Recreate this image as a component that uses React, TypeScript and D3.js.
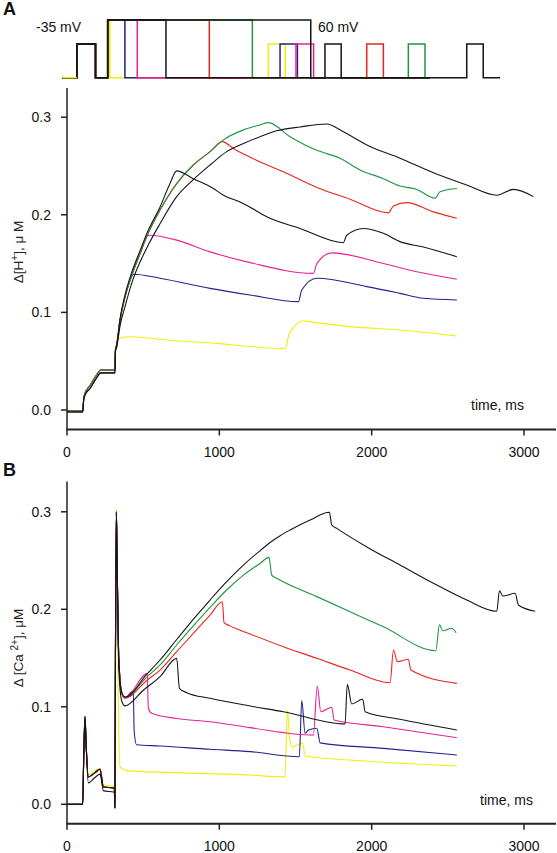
import React from "react";
import * as d3 from "d3";

type P = [number, number];

// ---------- data ----------
const xTicks = [0, 1000, 2000, 3000];
const yTicks = [0.0, 0.1, 0.2, 0.3];

const traceNames = ["yellow", "blue", "magenta", "red", "green", "blackShort", "blackLong"];
const traceColors = ["#eeee10", "#22228c", "#ea2290", "#e8261e", "#1e9640", "#151515", "#151515"];

// protocol (ms)
const prePulse = [100, 230];
const mainPulseStart = 315;
const mainPulseEnd = [330, 435, 521, 1023, 1323, 721, 1730];
const postPulseStart = [1434, 1516, 1627, 2120, 2410, 1829, 2817];
const postPulseEnd = [1552, 1637, 1750, 2236, 2526, 1942, 2932];
const protoEnd = [2560, 2560, 2560, 2560, 2560, 2560, 3050];

// Panel A: Δ[H+]
const hPrefix: P[] = [[0, -0.001], [103, -0.001], [110, 0.012], [118, 0.017], [151, 0.025], [195, 0.036], [221, 0.041], [315, 0.041], [318, 0.062]];
const hPrefixBlack: P[] = [[0, -0.002], [103, -0.002], [110, 0.011], [118, 0.015], [151, 0.022], [195, 0.033], [221, 0.038], [315, 0.038], [318, 0.06]];
const hYellow: P[] = [[326, 0.0666], [337, 0.073], [414, 0.075], [700, 0.071], [1000, 0.068], [1202, 0.065], [1420, 0.063], [1432, 0.063], [1460, 0.0785], [1552, 0.0915], [1570, 0.091], [1858, 0.0854], [2186, 0.082], [2559, 0.0758]];
const hBlue: P[] = [[326, 0.0666], [348, 0.092], [381, 0.116], [425, 0.137], [436, 0.139], [611, 0.135], [939, 0.1246], [1202, 0.1178], [1519, 0.111], [1541, 0.123], [1640, 0.135], [1968, 0.1264], [2186, 0.1195], [2340, 0.1144], [2559, 0.1127]];
const hMagenta: P[] = [[326, 0.0666], [348, 0.092], [381, 0.116], [425, 0.138], [479, 0.16], [527, 0.178], [540, 0.179], [720, 0.174], [939, 0.162], [1202, 0.151], [1617, 0.14], [1640, 0.15], [1738, 0.161], [2077, 0.15], [2296, 0.1417], [2559, 0.134]];
const hRed: P[] = [[326, 0.0666], [348, 0.092], [381, 0.116], [425, 0.138], [479, 0.16], [527, 0.179], [611, 0.205], [720, 0.232], [829, 0.251], [939, 0.2647], [1020, 0.275], [1092, 0.268], [1202, 0.259], [1420, 0.244], [1640, 0.228], [1858, 0.216], [2110, 0.202], [2143, 0.209], [2230, 0.2125], [2405, 0.203], [2559, 0.1964]];
const hGreen: P[] = [[326, 0.0666], [348, 0.092], [381, 0.116], [425, 0.138], [479, 0.16], [527, 0.179], [611, 0.205], [720, 0.232], [829, 0.251], [939, 0.2647], [1020, 0.276], [1158, 0.287], [1267, 0.292], [1322, 0.2944], [1464, 0.28], [1640, 0.266], [1792, 0.258], [1924, 0.246], [2077, 0.237], [2186, 0.2295], [2296, 0.226], [2416, 0.217], [2449, 0.2237], [2559, 0.227]];
const hBlackShort: P[] = [[326, 0.066], [348, 0.093], [381, 0.118], [425, 0.141], [479, 0.163], [527, 0.182], [611, 0.208], [676, 0.232], [720, 0.245], [829, 0.237], [961, 0.227], [1027, 0.22], [1136, 0.213], [1202, 0.2077], [1311, 0.198], [1530, 0.186], [1814, 0.1714], [1836, 0.179], [1946, 0.186], [2077, 0.181], [2186, 0.1725], [2340, 0.167], [2559, 0.157]];
const hBlackLong: P[] = [[326, 0.064], [348, 0.086], [381, 0.106], [425, 0.13], [527, 0.167], [611, 0.191], [720, 0.2186], [829, 0.236], [939, 0.251], [1048, 0.2647], [1158, 0.273], [1267, 0.28], [1377, 0.286], [1530, 0.29], [1705, 0.293], [1814, 0.285], [1989, 0.27], [2186, 0.258], [2405, 0.243], [2624, 0.2305], [2821, 0.22], [2930, 0.226], [3062, 0.2186]];

// Panel B: Δ[Ca2+]
const caPrefix: P[] = [[0, 0], [103, 0], [110, 0.05], [118, 0.09], [126, 0.06], [140, 0.028], [180, 0.032], [217, 0.036], [225, 0.03], [238, 0.018], [311, 0.0164], [314, -0.003], [318, 0.15], [324, 0.3], [328, 0.26]];
const caPrefixBlack: P[] = [[0, 0], [103, 0], [110, 0.05], [118, 0.088], [126, 0.058], [140, 0.022], [180, 0.027], [217, 0.031], [225, 0.026], [238, 0.014], [311, 0.0124], [314, -0.004], [318, 0.15], [324, 0.298], [328, 0.26]];
const caPrefixYellow: P[] = [[0, 0], [103, 0], [110, 0.05], [118, 0.089], [126, 0.06], [140, 0.03], [180, 0.034], [217, 0.037], [225, 0.031], [238, 0.02], [311, 0.018], [314, 0.0], [318, 0.16], [324, 0.303], [328, 0.27]];
const caYellow: P[] = [[336, 0.12], [348, 0.0386], [392, 0.0345], [1202, 0.03], [1431, 0.028], [1447, 0.0967], [1460, 0.07], [1475, 0.059], [1530, 0.062], [1547, 0.0626], [1563, 0.0495], [1858, 0.0454], [2559, 0.0393]];
const caBlue: P[] = [[340, 0.15], [359, 0.114], [381, 0.109], [425, 0.1155], [435, 0.116], [441, 0.075], [457, 0.061], [611, 0.0598], [939, 0.0564], [1202, 0.054], [1525, 0.0488], [1541, 0.1063], [1563, 0.0728], [1585, 0.0762], [1640, 0.078], [1662, 0.063], [2077, 0.0574], [2559, 0.0506]];
const caMagenta: P[] = [[340, 0.15], [359, 0.114], [381, 0.109], [527, 0.134], [534, 0.0985], [556, 0.0933], [720, 0.088], [939, 0.0847], [1202, 0.0786], [1617, 0.071], [1643, 0.1213], [1666, 0.095], [1738, 0.0995], [1753, 0.0865], [2077, 0.0796], [2559, 0.0683]];
const caRed: P[] = [[340, 0.15], [359, 0.114], [381, 0.109], [527, 0.1275], [611, 0.1377], [720, 0.1565], [829, 0.1754], [939, 0.194], [1020, 0.2078], [1031, 0.1863], [1070, 0.183], [1202, 0.1747], [1420, 0.1617], [1640, 0.1497], [1858, 0.1377], [2121, 0.1247], [2143, 0.1583], [2169, 0.1463], [2241, 0.1487], [2257, 0.1377], [2559, 0.124]];
const caGreen: P[] = [[340, 0.15], [359, 0.115], [381, 0.11], [527, 0.131], [611, 0.1429], [720, 0.1634], [829, 0.1829], [939, 0.202], [1048, 0.2198], [1158, 0.235], [1267, 0.247], [1326, 0.2533], [1344, 0.235], [1377, 0.2318], [1640, 0.213], [1858, 0.1975], [2077, 0.182], [2421, 0.1575], [2445, 0.184], [2467, 0.178], [2526, 0.1805], [2554, 0.176]];
const caBlackShort: P[] = [[340, 0.14], [359, 0.106], [381, 0.101], [501, 0.117], [611, 0.131], [720, 0.1497], [738, 0.119], [786, 0.1145], [939, 0.1087], [1202, 0.1008], [1420, 0.095], [1825, 0.0824], [1840, 0.123], [1869, 0.1029], [1941, 0.1077], [1957, 0.095], [2186, 0.0872], [2559, 0.0762]];
const caBlackLong: P[] = [[340, 0.15], [359, 0.115], [381, 0.11], [527, 0.134], [611, 0.148], [720, 0.169], [829, 0.1897], [939, 0.2095], [1048, 0.2283], [1158, 0.2454], [1267, 0.26], [1333, 0.2685], [1399, 0.2755], [1464, 0.2813], [1596, 0.2916], [1722, 0.2995], [1738, 0.2865], [1771, 0.283], [1968, 0.264], [2186, 0.2454], [2405, 0.2267], [2624, 0.2095], [2821, 0.198], [2839, 0.219], [2861, 0.2136], [2942, 0.2164], [2963, 0.2044], [3073, 0.198]];

const hSeries: P[][] = [
  [...hPrefix, ...hYellow],
  [...hPrefix, ...hBlue],
  [...hPrefix, ...hMagenta],
  [...hPrefix, ...hRed],
  [...hPrefix, ...hGreen],
  [...hPrefixBlack, ...hBlackShort],
  [...hPrefixBlack, ...hBlackLong],
];
const caSeries: P[][] = [
  [...caPrefixYellow, ...caYellow],
  [...caPrefix, ...caBlue],
  [...caPrefix, ...caMagenta],
  [...caPrefix, ...caRed],
  [...caPrefix, ...caGreen],
  [...caPrefixBlack, ...caBlackShort],
  [...caPrefix, ...caBlackLong],
];

const W = 557;
const H = 853;
const FONT = "'Liberation Sans', Arial, sans-serif";

const x = d3.scaleLinear().domain([0, 3210]).range([67, 556]);
const xProto = d3.scaleLinear().domain([0, 3200]).range([62.5, 62.5 + 3200 * 0.1435]);
const yProto = d3.scaleOrdinal<string, number>().domain(["hold", "-35", "60"]).range([77.7, 44, 20]);

const line = (yS: d3.ScaleLinear<number, number>) =>
  d3.line<P>().x((d) => x(d[0])).y((d) => yS(d[1])).curve(d3.curveMonotoneX);

function protoPoints(i: number): [number, string][] {
  return [
    [0, "hold"], [prePulse[0], "hold"], [prePulse[0], "-35"], [prePulse[1], "-35"], [prePulse[1], "hold"],
    [mainPulseStart, "hold"], [mainPulseStart, "60"], [mainPulseEnd[i], "60"], [mainPulseEnd[i], "hold"],
    [postPulseStart[i], "hold"], [postPulseStart[i], "-35"], [postPulseEnd[i], "-35"], [postPulseEnd[i], "hold"],
    [protoEnd[i], "hold"],
  ];
}
const protoLine = d3.line<[number, string]>().x((d) => xProto(d[0])).y((d) => yProto(d[1]));

function Panel({ series, y, top, bottom, labelY, label, timeX, timeY, drawOrder }: any) {
  const lg = line(y);
  return (
    <g>
      {drawOrder.map((i: number) => (
        <path key={i} d={lg(series[i]) || ""} fill="none" stroke={traceColors[i]} strokeWidth={1.1} strokeLinejoin="round" />
      ))}
      <line x1={67} x2={67} y1={top} y2={bottom} stroke="#222" strokeWidth={1.5} />
      <line x1={66.3} x2={556} y1={bottom} y2={bottom} stroke="#222" strokeWidth={2} />
      {yTicks.map((t) => (
        <g key={t}>
          <line x1={61} x2={67} y1={y(t)} y2={y(t)} stroke="#222" strokeWidth={1.5} />
          <text x={51} y={y(t)} dy="0.36em" textAnchor="end" fontSize={14} fontFamily={FONT} fill="#111">
            {d3.format(".1f")(t)}
          </text>
        </g>
      ))}
      {xTicks.map((t) => (
        <g key={t}>
          <line x1={x(t)} x2={x(t)} y1={bottom} y2={bottom + 6} stroke="#222" strokeWidth={1.5} />
          <text x={x(t)} y={bottom + 27} textAnchor="middle" fontSize={14} fontFamily={FONT} fill="#111">
            {t}
          </text>
        </g>
      ))}
      <text x={timeX} y={timeY} fontSize={14} fontFamily={FONT} fill="#111">time, ms</text>
      <text transform={`translate(23,${labelY}) rotate(-90)`} textAnchor="middle" fontSize={13.5} fontFamily={FONT} fill="#222">
        {label}
      </text>
    </g>
  );
}

const yA = d3.scaleLinear().domain([-0.02, 0.33]).range([429.5, 429.5 - 0.35 * 976]);
const yB = d3.scaleLinear().domain([-0.02, 0.331]).range([823.8, 823.8 - 0.351 * 975]);

export default function App() {
  const protoOrder = [0, 1, 2, 3, 4, 5, 6];
  return (
    <svg width={W} height={H} style={{ position: "absolute", left: 0, top: 0, background: "#fff" }}>
      <rect x={0} y={0} width={W} height={H} fill="#fff" />
      <text x={3} y={15} fontSize={18} fontWeight="bold" fontFamily={FONT} fill="#111">A</text>
      <text x={3} y={476} fontSize={18} fontWeight="bold" fontFamily={FONT} fill="#111">B</text>
      {protoOrder.map((i) => (
        <path key={i} d={protoLine(protoPoints(i)) || ""} fill="none" stroke={traceColors[i]} strokeWidth={1.5} />
      ))}
      <path d={protoLine(protoPoints(0).slice(0, 2)) || ""} fill="none" stroke={traceColors[0]} strokeWidth={1.5} />
      <text x={36} y={31.5} fontSize={14} fontFamily={FONT} fill="#111">-35 mV</text>
      <text x={318} y={31.5} fontSize={14} fontFamily={FONT} fill="#111">60 mV</text>
      <Panel
        series={hSeries}
        y={yA}
        top={88}
        bottom={429.5}
        labelY={252}
        timeX={471}
        timeY={410}
        drawOrder={[0, 1, 2, 3, 4, 5, 6]}
        label={
          <>
            Δ[H<tspan dy={-5} fontSize={10}>+</tspan>
            <tspan dy={5}>],  μ M</tspan>
          </>
        }
      />
      <Panel
        series={caSeries}
        y={yB}
        top={481.6}
        bottom={823.8}
        labelY={648}
        timeX={480}
        timeY={805}
        drawOrder={[0, 1, 3, 4, 2, 6, 5]}
        label={
          <>
            Δ [Ca <tspan dy={-5} fontSize={10}>2+</tspan>
            <tspan dy={5}>], μM</tspan>
          </>
        }
      />
    </svg>
  );
}
